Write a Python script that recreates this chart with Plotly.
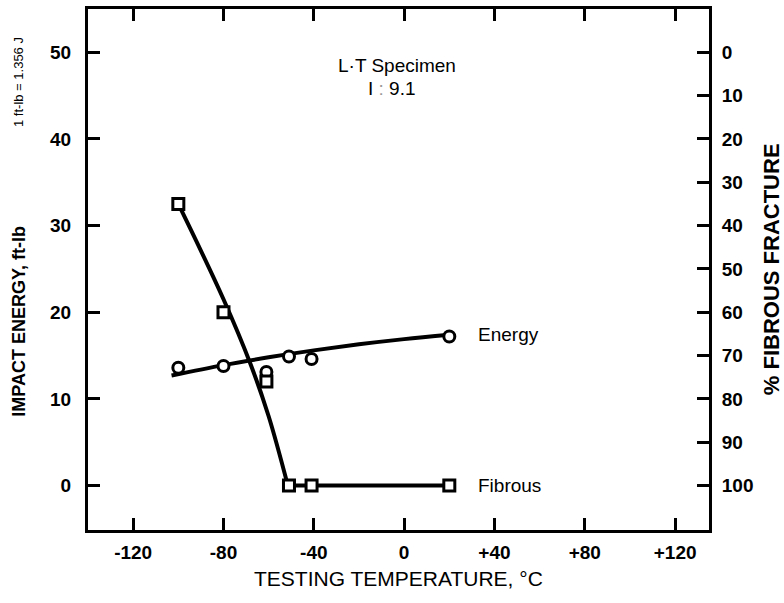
import plotly.graph_objects as go

# ---- data ----
energy_temp = [-100, -80, -61, -51, -41, 20]
energy_ftlb = [13.6, 13.8, 13.1, 14.9, 14.6, 17.2]

fibrous_temp = [-100, -80, -61, -51, -41, 20]
fibrous_pct = [35, 60, 76, 100, 100, 100]

energy_fit_temp = [-103, -80, -60, -40, -20, 0, 20]
energy_fit_val = [12.7, 13.9, 14.8, 15.6, 16.3, 16.9, 17.4]

fibrous_fit_temp = [-100, -80, -68, -60, -51.5]
fibrous_fit_val = [35, 57, 72, 84, 100]
fibrous_flat_temp = [-51.5, 20]
fibrous_flat_val = [100, 100]

x_ticks = [-120, -80, -40, 0, 40, 80, 120]
x_ticktext = ["-120", "-80", "-40", "0", "+40", "+80", "+120"]
y_ticks = [0, 10, 20, 30, 40, 50]
y2_ticks = [0, 10, 20, 30, 40, 50, 60, 70, 80, 90, 100]

FONT = "Liberation Sans"
BLACK = "black"

fig = go.Figure()

fig.add_trace(go.Scatter(x=energy_fit_temp, y=energy_fit_val, mode="lines",
                         line=dict(color=BLACK, width=4, shape="spline"),
                         showlegend=False, hoverinfo="skip"))
fig.add_trace(go.Scatter(x=fibrous_fit_temp, y=fibrous_fit_val, mode="lines",
                         line=dict(color=BLACK, width=4, shape="spline"),
                         yaxis="y2", showlegend=False, hoverinfo="skip"))
fig.add_trace(go.Scatter(x=fibrous_flat_temp, y=fibrous_flat_val, mode="lines",
                         line=dict(color=BLACK, width=4),
                         yaxis="y2", showlegend=False, hoverinfo="skip"))
fig.add_trace(go.Scatter(x=fibrous_temp, y=fibrous_pct, mode="markers",
                         marker=dict(symbol="square", size=11, color="white",
                                     line=dict(color=BLACK, width=3)),
                         yaxis="y2", showlegend=False))
fig.add_trace(go.Scatter(x=energy_temp, y=energy_ftlb, mode="markers",
                         marker=dict(symbol="circle", size=11, color="white",
                                     line=dict(color=BLACK, width=3)),
                         showlegend=False))

axis_common = dict(showline=True, linecolor=BLACK, linewidth=3, ticks="inside",
                   ticklen=12, tickwidth=2.5, tickcolor=BLACK, showgrid=False,
                   zeroline=False,
                   tickfont=dict(family=FONT, size=19, color=BLACK, weight="bold"))

fig.update_layout(
    width=784, height=603,
    margin=dict(l=88, r=75, t=6, b=73),
    paper_bgcolor="white", plot_bgcolor="white",
    xaxis=dict(range=[-140, 135], tickvals=x_ticks, ticktext=x_ticktext,
               mirror="ticks", ticklabelstandoff=3, **axis_common),
    yaxis=dict(range=[-5.13, 55.0], tickvals=y_ticks, ticklabelstandoff=10,
               **axis_common),
    yaxis2=dict(range=[110.26, -10.0], tickvals=y2_ticks, overlaying="y",
                side="right", ticklabelstandoff=6, **axis_common),
    annotations=[
        dict(text="L·T Specimen", x=-3.2, y=48.5, xref="x", yref="y",
             showarrow=False, font=dict(family=FONT, size=19, color=BLACK)),
        dict(text="I <span style='color:#999'>:</span> 9.1", x=-5.4, y=45.8,
             xref="x", yref="y", showarrow=False,
             font=dict(family=FONT, size=19, color=BLACK)),
        dict(text="Energy", x=32, y=17.4, xref="x", yref="y", xanchor="left",
             showarrow=False, font=dict(family=FONT, size=19, color=BLACK)),
        dict(text="Fibrous", x=32, y=0, xref="x", yref="y", xanchor="left",
             showarrow=False, font=dict(family=FONT, size=19, color=BLACK)),
        dict(text="TESTING TEMPERATURE, °C", x=0.5, y=-0.093, xref="paper",
             yref="paper", showarrow=False, xanchor="center", yanchor="middle",
             font=dict(family=FONT, size=21, color=BLACK)),
        dict(text="IMPACT ENERGY, ft-lb", x=-0.111, y=0.40, xref="paper",
             yref="paper", textangle=-90, showarrow=False,
             xanchor="center", yanchor="middle",
             font=dict(family=FONT, size=18, color=BLACK, weight="bold")),
        dict(text="1 ft-lb = 1.356 J", x=-0.111, y=0.86, xref="paper",
             yref="paper", textangle=-90, showarrow=False,
             xanchor="center", yanchor="middle",
             font=dict(family=FONT, size=13, color=BLACK)),
        dict(text="% FIBROUS FRACTURE", x=1.101, y=0.5, xref="paper",
             yref="paper", textangle=-90, showarrow=False,
             xanchor="center", yanchor="middle",
             font=dict(family=FONT, size=22, color=BLACK, weight="bold")),
    ],
)

fig.write_html("out.html")
